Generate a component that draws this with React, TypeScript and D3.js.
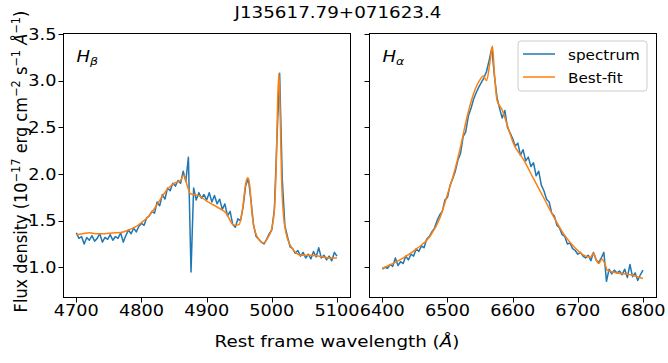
import React from "react";
import * as d3 from "d3";

const title = "J135617.79+071623.4";
const hbTicks = [4700, 4800, 4900, 5000, 5100];
const haTicks = [6400, 6500, 6600, 6700, 6800];
const yTicks = [1.0, 1.5, 2.0, 2.5, 3.0, 3.5];
const hbDomain = [4680, 5120];
const haDomain = [6380, 6820];
const yDomain = [0.682, 3.51];

// spectrum sampled every 4 Å
const pixStep = 4;
const hbStart = 4700;
const hbFlux = [
  1.37, 1.31, 1.33, 1.25, 1.32, 1.29, 1.34, 1.28, 1.31, 1.36,
  1.27, 1.32, 1.30, 1.35, 1.29, 1.33, 1.31, 1.37, 1.27, 1.34,
  1.40, 1.36, 1.42, 1.38, 1.44, 1.47, 1.45, 1.53, 1.55, 1.60,
  1.58, 1.70, 1.66, 1.78, 1.73, 1.85, 1.82, 1.90, 1.87, 1.93,
  1.90, 2.03, 1.92, 2.18, 0.95, 1.85, 1.72, 1.80, 1.74, 1.78,
  1.72, 1.80, 1.70, 1.77, 1.68, 1.73, 1.62, 1.68, 1.55, 1.60,
  1.46, 1.43, 1.52, 1.50, 1.65, 1.88, 1.95, 1.72, 1.45, 1.33,
  1.30, 1.27, 1.25, 1.30, 1.36, 1.40, 1.63, 2.40, 3.08, 1.95,
  1.45, 1.33, 1.22, 1.20, 1.15, 1.18, 1.12, 1.16, 1.10, 1.14,
  1.09, 1.17, 1.11, 1.21, 1.10, 1.13, 1.08, 1.12, 1.07, 1.16,
  1.12,
];
const haStart = 6400;
const haFlux = [
  0.98, 1.00, 0.99, 1.03, 1.01, 1.10, 1.02, 1.06, 1.04, 1.12,
  1.08, 1.14, 1.12, 1.20, 1.17, 1.23, 1.21, 1.30, 1.33, 1.38,
  1.42, 1.50, 1.56, 1.60, 1.72, 1.75, 1.88, 1.95, 2.03, 2.15,
  2.22, 2.40, 2.45, 2.62, 2.70, 2.80, 2.87, 2.93, 2.98, 3.03,
  3.10, 3.22, 3.35, 3.05, 2.82, 2.70, 2.60, 2.68, 2.50, 2.44,
  2.38, 2.30, 2.33, 2.20, 2.26, 2.14, 2.18, 2.08, 2.12, 1.98,
  2.03, 1.88, 1.82, 1.73, 1.70, 1.58, 1.55, 1.45, 1.42, 1.35,
  1.33, 1.25, 1.26, 1.20, 1.18, 1.14, 1.16, 1.12, 1.10, 1.13,
  1.07, 1.16, 1.08, 1.05, 1.10, 1.16, 0.85, 0.98, 0.93, 0.97,
  0.94, 0.96, 0.92, 0.98, 0.89, 1.03, 0.90, 0.94, 0.86, 0.92,
  0.97,
];

// best-fit model
const hbFitWave = [
  4700, 4710, 4720, 4730, 4740, 4750, 4760, 4770, 4780, 4790,
  4800, 4810, 4820, 4830, 4840, 4850, 4860, 4865, 4870, 4875,
  4880, 4890, 4900, 4910, 4920, 4930, 4940, 4945, 4950, 4955,
  4960, 4963, 4966, 4970, 4975, 4980, 4987, 4995, 5000, 5004,
  5007, 5009, 5011, 5013, 5015, 5018, 5022, 5028, 5035, 5045,
  5060, 5075, 5090, 5100,
];
const hbFitFlux = [
  1.35, 1.36, 1.37, 1.36, 1.36, 1.365, 1.37, 1.375, 1.40, 1.43,
  1.48, 1.54, 1.63, 1.74, 1.84, 1.90, 1.93, 1.99, 1.88, 1.79,
  1.78, 1.76, 1.71, 1.67, 1.63, 1.58, 1.46, 1.45, 1.46, 1.62,
  1.90, 1.96, 1.88, 1.55, 1.37, 1.30, 1.26, 1.33, 1.42, 1.62,
  2.15, 2.8, 3.08, 2.6, 1.95, 1.55, 1.36, 1.24, 1.17, 1.13,
  1.13, 1.115, 1.10, 1.10,
];
const haFitWave = [
  6400, 6427, 6453, 6473, 6489, 6499, 6510, 6520, 6530, 6540,
  6550, 6555, 6560, 6565, 6569, 6572, 6576, 6584, 6591, 6601,
  6617, 6632, 6648, 6663, 6678, 6694, 6709, 6719, 6724, 6729,
  6732, 6737, 6742, 6745, 6760, 6781, 6800,
];
const haFitFlux = [
  0.99, 1.08, 1.20, 1.33, 1.54, 1.76, 2.01, 2.29, 2.61, 2.86,
  3.01, 3.05, 3.00, 3.19, 3.37, 3.08, 2.79, 2.685, 2.54, 2.33,
  2.15, 1.95, 1.74, 1.54, 1.36, 1.22, 1.13, 1.107, 1.15, 1.07,
  1.04, 1.086, 1.03, 0.97, 0.94, 0.92, 0.88,
];

const legendLabels = ["spectrum", "Best-fit"];
const colors = ["#1f77b4", "#ff7f0e"];

const W = 668;
const H = 363;
const TOP = 33;
const BOTTOM = 297;
const FONT = "DejaVu Sans, sans-serif";
const SQ = 0.87; // vertical squish of the reference raster

const y = d3.scaleLinear().domain(yDomain).range([BOTTOM, TOP]);

function T(props: {
  x: number;
  y: number;
  size: number;
  anchor?: string;
  italic?: boolean;
  children: React.ReactNode;
}) {
  return (
    <text
      transform={`translate(${props.x},${props.y}) scale(1,${SQ})`}
      textAnchor={props.anchor || "start"}
      fontSize={props.size}
      fontStyle={props.italic ? "italic" : "normal"}
      fontFamily={FONT}
      fill="#000"
    >
      {props.children}
    </text>
  );
}

function Panel(props: {
  left: number;
  right: number;
  domain: number[];
  ticks: number[];
  start: number;
  flux: number[];
  fitWave: number[];
  fitFlux: number[];
  greek: string;
  yLabels: boolean;
  legend: boolean;
}) {
  const x = d3.scaleLinear().domain(props.domain).range([props.left, props.right]);
  const specPts = props.flux.map((f, i) => [props.start + i * pixStep, f] as [number, number]);
  const fitPts = props.fitWave.map((w, i) => [w, props.fitFlux[i]] as [number, number]);
  const line = d3
    .line<[number, number]>()
    .x((d) => x(d[0]))
    .y((d) => y(d[1]));
  const fitLine = d3
    .line<[number, number]>()
    .x((d) => x(d[0]))
    .y((d) => y(d[1]))
    .curve(d3.curveMonotoneX);
  const L = Math.round(props.left) + 0.5;
  const R = Math.round(props.right) + 0.5;
  return (
    <g>
      <path d={line(specPts) || ""} fill="none" stroke={colors[0]} strokeWidth={1.5} strokeLinejoin="round" />
      <path d={fitLine(fitPts) || ""} fill="none" stroke={colors[1]} strokeWidth={1.5} strokeLinejoin="round" />
      <rect x={L} y={TOP + 0.5} width={R - L} height={BOTTOM - TOP} fill="none" stroke="#000" strokeWidth={1} />
      {props.ticks.map((t) => (
        <g key={t}>
          <line x1={Math.round(x(t)) + 0.5} x2={Math.round(x(t)) + 0.5} y1={BOTTOM + 0.5} y2={BOTTOM + 5.5} stroke="#000" />
          <T x={x(t)} y={316} size={17.7} anchor="middle">
            {t}
          </T>
        </g>
      ))}
      {yTicks.map((t) => (
        <g key={t}>
          <line x1={L - 5} x2={L} y1={Math.round(y(t)) + 0.5} y2={Math.round(y(t)) + 0.5} stroke="#000" />
          {props.yLabels && (
            <T x={L - 7} y={y(t) + 5.6} size={17.7} anchor="end">
              {t.toFixed(1)}
            </T>
          )}
        </g>
      ))}
      <T x={L + 13} y={62} size={18} italic>
        H
        <tspan fontSize={12.5} dy={4}>
          {props.greek}
        </tspan>
      </T>
      {props.legend && (
        <g>
          <rect x={518} y={41} width={129} height={50} rx={3} fill="#fff" fillOpacity={0.8} stroke="#cccccc" strokeWidth={1} />
          {legendLabels.map((lab, i) => (
            <g key={lab}>
              <line x1={523} x2={555} y1={54 + i * 23} y2={54 + i * 23} stroke={colors[i]} strokeWidth={1.5} />
              <T x={568} y={59.5 + i * 23} size={15.2}>
                {lab}
              </T>
            </g>
          ))}
        </g>
      )}
    </g>
  );
}

export default function App() {
  return (
    <div style={{ position: "absolute", left: 0, top: 0 }}>
      <svg width={W} height={H} style={{ display: "block", background: "#fff" }}>
        <T x={338} y={18} size={18.3} anchor="middle">
          {title}
        </T>
        <Panel
          left={63.3}
          right={350}
          domain={hbDomain}
          ticks={hbTicks}
          start={hbStart}
          flux={hbFlux}
          fitWave={hbFitWave}
          fitFlux={hbFitFlux}
          greek="β"
          yLabels={true}
          legend={false}
        />
        <Panel
          left={369.3}
          right={656}
          domain={haDomain}
          ticks={haTicks}
          start={haStart}
          flux={haFlux}
          fitWave={haFitWave}
          fitFlux={haFitFlux}
          greek="α"
          yLabels={false}
          legend={true}
        />
        <T x={337} y={347} size={18.3} anchor="middle">
          Rest frame wavelength (<tspan fontStyle="italic">Å</tspan>)
        </T>
        <text
          transform="translate(27,161.5) rotate(-90) scale(0.95,1)"
          textAnchor="middle"
          fontSize={17}
          fontFamily={FONT}
          fill="#000"
        >
          Flux density (10
          <tspan fontSize={12} dy={-7}>−17</tspan>
          <tspan dy={7}> erg cm</tspan>
          <tspan fontSize={12} dy={-7}>−2</tspan>
          <tspan dy={7}> s</tspan>
          <tspan fontSize={12} dy={-7}>−1</tspan>
          <tspan dy={7}> </tspan>
          <tspan fontStyle="italic">Å</tspan>
          <tspan fontSize={12} dy={-7}>−1</tspan>
          <tspan dy={7}>)</tspan>
        </text>
      </svg>
    </div>
  );
}
